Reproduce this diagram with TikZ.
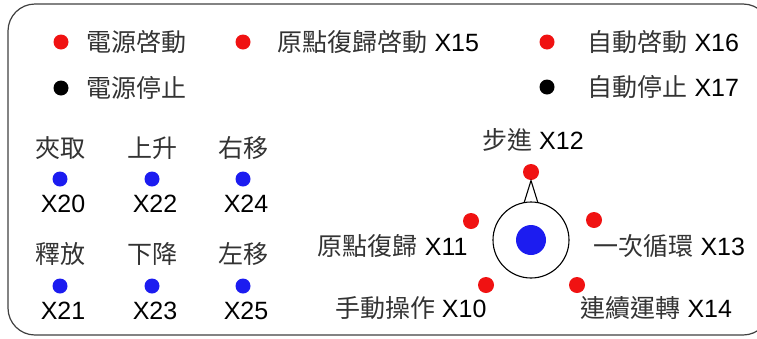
\documentclass[tikz,border=0pt]{standalone}
\usepackage{fontspec}
\setmainfont{Liberation Sans}
\newfontfamily\cjk{Noto Sans CJK TC}
\usetikzlibrary{positioning}
\definecolor{dotred}{RGB}{240,18,18}
\definecolor{dotblue}{RGB}{28,28,240}
\newcommand{\zh}[1]{{\cjk\color{black!80}#1}}
\tikzset{dot/.style = {fill, circle, inner sep = 0, minimum size = 15}}
\tikzset{lamp/.style = {dot, fill = dotred}}
\tikzset{key/.style = {dot, fill = dotblue}}
\tikzset{txt/.style = {inner sep = 0, text height = 19pt, text depth = 0pt,
                       font = \fontsize{25}{30}\selectfont}}
\tikzset{frame/.style = {rounded corners = 27pt, line width = 1.2pt, draw = black!75}}

\begin{document}
\begin{tikzpicture}[x=1pt, y=-1pt, line width=1.1pt]
        \useasboundingbox (0,0) rectangle (757,338);
        \clip (0,0) rectangle (757,338);
        \draw[frame] (8,4) rectangle (770,335);
        % top lamps
        \node[lamp] (pon) at (61,42) {};
        \node[txt, right=17pt of pon] (pon t) {\zh{電源啓動}};
        \node[lamp] (home) at (243,42) {};
        \node[txt, right=26pt of home] (home t) {\zh{原點復歸啓動} X15};
        \node[lamp] (auto) at (547,42) {};
        \node[txt, right=32pt of auto] (auto t) {\zh{自動啓動} X16};
        \node[dot] (poff) at (61,88) {};
        \node[txt, right=17pt of poff] (poff t) {\zh{電源停止}};
        \node[dot] (aoff) at (547,87) {};
        \node[txt, right=32pt of aoff] (aoff t) {\zh{自動停止} X17};
        % manual keys
        \foreach \x/\up/\dn/\a/\b in {60/夾取/釋放/20/21, 152/上升/下降/22/23,
                                      243/右移/左移/24/25} {
          \node[key] (k\a) at (\x,179) {};
          \node[txt, above=13pt of k\a] (k\a t) {\zh{\up}};
          \node[txt, below=6pt of k\a, xshift=3pt] (k\a x) {X\a};
          \node[key] (k\b) at (\x,286) {};
          \node[txt, above=14pt of k\b] (k\b t) {\zh{\dn}};
          \node[txt, below=6pt of k\b, xshift=3pt] (k\b x) {X\b};
        }
        % mode selector
        \node[draw, circle, minimum size=76, inner sep=0] (dial) at (531,240) {};
        \node[key, minimum size=30] (knob) at (dial) {};
        \node[lamp, minimum size=16] (m12) at (531,172) {};
        \node[lamp, minimum size=16] (m11) at (471,221) {};
        \node[lamp, minimum size=16] (m13) at (594,220) {};
        \node[lamp, minimum size=16] (m10) at (486,285) {};
        \node[lamp, minimum size=16] (m14) at (577,285) {};
        \draw (dial.100) -- (m12.south) -- (dial.80);
        \node[txt, above=13pt of m12, xshift=2pt] (m12 t) {\zh{步進} X12};
        \node[txt, anchor=east] (m11 t) at (468,246) {\zh{原點復歸} X11};
        \node[txt, anchor=west] (m13 t) at (593,246) {\zh{一次循環} X13};
        \node[txt, anchor=east] (m10 t) at (487,308) {\zh{手動操作} X10};
        \node[txt, anchor=west] (m14 t) at (580,308) {\zh{連續運轉} X14};
      \end{tikzpicture}
\end{document}
